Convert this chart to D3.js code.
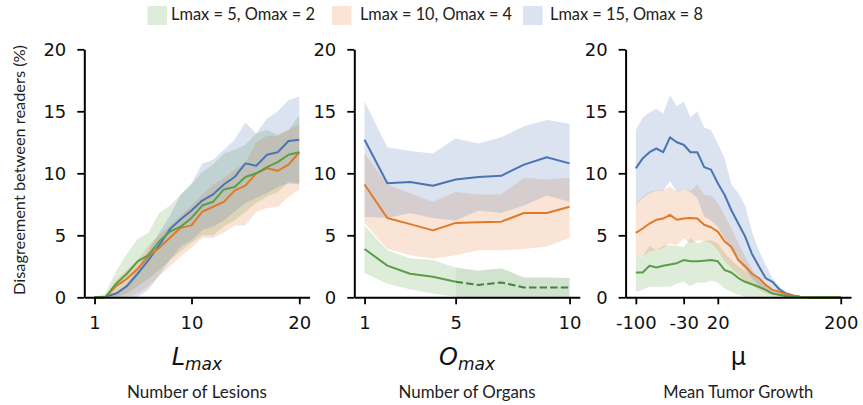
<!DOCTYPE html>
<html><head><meta charset="utf-8">
<script src="https://cdn.jsdelivr.net/npm/d3@7"></script>
<style>body{margin:0;background:#fff}svg{display:block}</style>
</head><body>
<svg id="c" width="863" height="405"></svg>
<script>
// ---------- data ----------
const seriesNames = ["Lmax = 5, Omax = 2", "Lmax = 10, Omax = 4", "Lmax = 15, Omax = 8"];
const seriesColors = ["#5a9e48", "#e07a2b", "#4a74b4"];
const yTicks = [0, 5, 10, 15, 20];

// Panel 1: Number of Lesions
const lesionsX = [1,2,3,4,5,6,7,8,9,10,11,12,13,14,15,16,17,18,19,20];
const lesionsTicks = [1, 10, 20];
const lesGreen   = [0,0,1.1,1.9,2.9,3.4,4.5,5.3,5.7,6.4,7.4,7.7,8.7,8.9,9.7,10.0,10.5,10.9,11.5,11.7];
const lesGreenHi = [0,0.3,2.1,3.5,4.7,5.2,6.8,7.4,8.3,9.1,10.1,10.7,11.6,11.9,12.3,13.2,13.5,13.1,13.5,14.7];
const lesGreenLo = [0,0,0,0.3,0.9,1.5,2.2,3.0,3.7,4.4,5.0,5.0,5.7,6.2,6.9,7.6,8.1,8.5,9.3,9.2];
const lesOrange   = [0,0,0.9,1.5,2.3,3.3,4.0,4.8,5.6,5.8,6.9,7.3,7.7,8.6,9.0,10.0,10.4,10.2,10.7,11.7];
const lesOrangeHi = [0,0,1.4,2.2,3.0,4.2,5.0,5.8,6.6,7.4,8.3,9.1,9.6,10.3,10.8,12.5,13.0,13.0,13.5,14.0];
const lesOrangeLo = [0,0,0,0,0.3,0.9,1.7,2.5,3.3,4.0,4.8,4.8,5.2,5.8,5.8,6.9,7.2,7.3,8.1,8.7];
const lesBlue   = [0,0.05,0.3,0.9,1.9,3.0,4.2,5.5,6.3,7.0,7.8,8.3,9.1,9.7,10.8,10.6,11.5,11.7,12.6,12.7];
const lesBlueHi = [0,0,0.2,1.1,2.3,3.8,5.2,6.6,8.3,9.2,10.8,11.1,11.9,12.7,14.1,13.2,14.4,15.0,15.9,16.2];
const lesBlueLo = [0,0,0,0,0,0.6,1.8,3.0,4.1,4.6,5.4,5.7,6.2,6.9,7.6,8.0,8.4,8.9,9.2,9.1];

// Panel 2: Number of Organs
const organsX = [1,2,3,4,5,6,7,8,9,10];
const organsTicks = [1, 5, 10];
const orgGreen   = [3.9,2.55,1.9,1.65,1.25,1.0,1.2,0.8,0.8,0.8];
const orgGreenHi = [5.8,3.8,3.15,3.0,2.4,2.15,2.35,1.6,1.6,1.55];
const orgGreenLo = [1.95,1.1,0.65,0.3,0.05,0,0,0,0,0];
const orgOrange   = [9.1,6.4,5.9,5.4,6.0,6.05,6.1,6.8,6.8,7.3];
const orgOrangeHi = [11.6,9.1,8.4,7.7,8.5,8.3,8.3,9.65,9.5,9.65];
const orgOrangeLo = [6.0,3.9,3.4,3.1,3.4,3.8,3.8,3.9,4.1,4.8];
const orgBlue   = [12.7,9.2,9.3,9.0,9.5,9.7,9.8,10.7,11.3,10.8];
const orgBlueHi = [15.8,12.1,11.8,11.6,12.8,12.4,12.9,13.8,14.3,14.0];
const orgBlueLo = [6.5,6.4,6.8,6.4,6.2,7.0,6.8,7.4,8.2,7.7];
const orgDashedFrom = 5;

// Panel 3: Mean Tumor Growth
const muX = [-100,-90,-80,-70,-60,-50,-40,-30,-20,-10,0,10,20,30,40,50,60,70,80,90,100,110,120,130,140,150,160,170,180,190,200];
const muTicks = [-100, -30, 20, 200];
const muGreen   = [2.0,2.0,2.55,2.4,2.55,2.65,2.75,3.0,2.9,2.9,2.95,3.0,2.9,2.2,2.0,1.55,1.25,1.05,0.85,0.6,0.3,0.2,0.1,0.05,0,0,0,0,0,0,0];
const muGreenHi = [3.4,3.25,4.15,3.8,4.15,4.2,4.15,4.05,4.75,4.35,4.55,4.6,4.35,3.6,3.0,2.5,2.1,1.8,1.35,0.85,0.45,0.2,0.1,0.05,0,0,0,0,0,0,0];
const muGreenLo = [0.45,0.6,0.85,0.85,0.85,0.85,1.1,1.25,0.9,1.2,1.15,1.35,1.2,0.7,0.45,0.2,0.05,0,0,0,0,0,0,0,0,0,0,0,0,0,0];
const muOrange   = [5.2,5.55,5.95,6.25,6.35,6.65,6.25,6.35,6.4,6.35,5.85,5.65,5.3,4.5,4.05,3.0,2.5,1.9,1.55,1.0,0.6,0.45,0.25,0.12,0.05,0.02,0,0,0,0,0];
const muOrangeHi = [7.5,8.1,8.5,8.65,8.6,8.95,8.5,8.8,8.6,9.1,8.25,8.2,7.6,6.6,5.55,4.35,3.3,2.25,1.55,1.0,0.65,0.3,0.2,0.1,0.05,0.02,0,0,0,0,0];
const muOrangeLo = [3.4,3.3,3.7,3.8,3.95,4.35,4.2,4.75,4.35,4.6,4.55,4.35,3.8,2.9,2.35,1.8,1.35,1.0,0.6,0.3,0.2,0.1,0,0,0,0,0,0,0,0,0];
const muBlue   = [10.4,11.2,11.7,12.0,11.7,12.9,12.5,12.3,11.7,11.7,10.5,10.3,9.2,8.25,7.0,5.95,4.9,3.5,2.5,1.55,1.25,0.65,0.3,0.15,0.05,0.02,0.01,0,0,0,0];
const muBlueHi = [13.5,14.5,14.9,15.2,14.8,16.3,15.4,15.8,14.5,15.0,13.7,13.5,12.4,11.2,9.1,8.4,7.4,5.3,3.8,2.6,1.55,0.85,0.45,0.25,0.12,0.05,0.02,0.01,0,0,0];
const muBlueLo = [7.45,8.0,8.4,8.6,8.55,9.4,8.45,8.75,8.5,8.0,6.5,6.2,5.7,4.75,3.8,2.9,2.2,1.55,1.0,0.6,0.3,0.1,0.05,0.02,0,0,0,0,0,0,0];

// ---------- layout ----------
const svg = d3.select("#c");
const yTop = 49.3, yBot = 297.3;
const TICK_FONT = "'DejaVu Sans', sans-serif";
const LABEL_FONT = "Lato, 'Open Sans', sans-serif";

const panels = [
  { x: lesionsX, ticks: lesionsTicks, domain: [0.05, 20.95], range: [84.3, 309.5],
    sym: "L", sub: "max", title: "Number of Lesions", titleLen: 140,
    series: [[lesGreen, lesGreenLo, lesGreenHi], [lesOrange, lesOrangeLo, lesOrangeHi], [lesBlue, lesBlueLo, lesBlueHi]] },
  { x: organsX, ticks: organsTicks, domain: [0.55, 10.45], range: [354.3, 579.8],
    sym: "O", sub: "max", title: "Number of Organs", titleLen: 137, dashGreenFrom: orgDashedFrom,
    series: [[orgGreen, orgGreenLo, orgGreenHi], [orgOrange, orgOrangeLo, orgOrangeHi], [orgBlue, orgBlueLo, orgBlueHi]] },
  { x: muX, ticks: muTicks, domain: [-115, 215], range: [625.6, 851],
    sym: "μ", sub: null, title: "Mean Tumor Growth", titleLen: 150,
    series: [[muGreen, muGreenLo, muGreenHi], [muOrange, muOrangeLo, muOrangeHi], [muBlue, muBlueLo, muBlueHi]] }
];

const y = d3.scaleLinear().domain([0, 20]).range([yBot, yTop]);

panels.forEach(p => {
  const x = d3.scaleLinear().domain(p.domain).range(p.range);
  const g = svg.append("g");
  const area = d3.area().x(d => x(d.x)).y0(d => y(d.lo)).y1(d => y(d.hi));
  const line = d3.line().x(d => x(d.x)).y(d => y(d.v));
  const pts = s => p.x.map((xv, i) => ({ x: xv, v: s[0][i], lo: s[1][i], hi: s[2][i] }));

  // bands
  p.series.forEach((s, si) => {
    const d = pts(s);
    if (si === 0 && p.dashGreenFrom) {
      const a = d.filter(q => q.x <= p.dashGreenFrom), b = d.filter(q => q.x >= p.dashGreenFrom);
      g.append("path").attr("d", area(a)).attr("fill", seriesColors[0]).attr("fill-opacity", 0.2);
      g.append("path").attr("d", area(b)).attr("fill", "#4f9340").attr("fill-opacity", 0.26);
    } else {
      g.append("path").attr("d", area(d)).attr("fill", seriesColors[si]).attr("fill-opacity", 0.2);
    }
  });
  // lines (blue, orange, green)
  [2, 1, 0].forEach(si => {
    const d = pts(p.series[si]);
    if (si === 0 && p.dashGreenFrom) {
      const a = d.filter(q => q.x <= p.dashGreenFrom), b = d.filter(q => q.x >= p.dashGreenFrom);
      g.append("path").attr("d", line(a)).attr("fill", "none").attr("stroke", seriesColors[0])
        .attr("stroke-width", 2).attr("stroke-linejoin", "round");
      g.append("path").attr("d", line(b)).attr("fill", "none").attr("stroke", "#3f8636")
        .attr("stroke-width", 2).attr("stroke-dasharray", "7.4,3.2");
    } else {
      g.append("path").attr("d", line(d)).attr("fill", "none").attr("stroke", seriesColors[si])
        .attr("stroke-width", 2).attr("stroke-linejoin", "round");
    }
  });

  // axes
  const xa = g.append("g").attr("transform", `translate(0,${yBot})`)
    .call(d3.axisBottom(x).tickValues(p.ticks).tickFormat(d => String(d)).tickSize(7).tickSizeOuter(0).tickPadding(11.7));
  const ya = g.append("g").attr("transform", `translate(${p.range[0]},0)`)
    .call(d3.axisLeft(y).tickValues(yTicks).tickSize(7).tickSizeOuter(0).tickPadding(11));
  [xa, ya].forEach(a => {
    a.select(".domain").attr("stroke", "#000").attr("stroke-width", 2);
    a.selectAll(".tick line").attr("stroke", "#000").attr("stroke-width", 1.8);
    a.selectAll(".tick text").attr("font-family", TICK_FONT).attr("font-size", 18).attr("fill", "#111");
  });

  // symbol label
  const cx = (p.range[0] + p.range[1]) / 2;
  const t = g.append("text").attr("x", cx).attr("y", 365).attr("text-anchor", "middle")
    .attr("font-family", TICK_FONT).attr("fill", "#111");
  if (p.sub) {
    t.append("tspan").attr("font-size", 24).attr("font-style", "italic").text(p.sym);
    t.append("tspan").attr("font-size", 17).attr("font-style", "italic").attr("dy", 5).text(p.sub);
  } else {
    t.append("tspan").attr("font-size", 24).text(p.sym);
  }
  // description
  g.append("text").attr("x", cx).attr("y", 398.3).attr("text-anchor", "middle")
    .attr("font-family", LABEL_FONT).attr("font-size", 17.5).attr("fill", "#222")
    .attr("textLength", p.titleLen).attr("lengthAdjust", "spacingAndGlyphs").text(p.title);
});

// y-axis title
svg.append("text").attr("transform", "translate(25,170) rotate(-90)").attr("text-anchor", "middle")
  .attr("font-family", LABEL_FONT).attr("font-size", 15.5).attr("fill", "#222")
  .attr("textLength", 250).attr("lengthAdjust", "spacingAndGlyphs")
  .text("Disagreement between readers (%)");

// legend
const legX = [147.5, 332, 523], legTextX = [171, 360, 550], legLen = [144, 152, 153];
seriesNames.forEach((n, i) => {
  svg.append("rect").attr("x", legX[i]).attr("y", 6).attr("width", 19.5).attr("height", 19)
    .attr("fill", seriesColors[i]).attr("fill-opacity", 0.2);
  svg.append("text").attr("x", legTextX[i]).attr("y", 19.5)
    .attr("font-family", LABEL_FONT).attr("font-size", 16.5).attr("fill", "#222")
    .attr("textLength", legLen[i]).attr("lengthAdjust", "spacingAndGlyphs").text(n);
});
</script>
</body></html>
